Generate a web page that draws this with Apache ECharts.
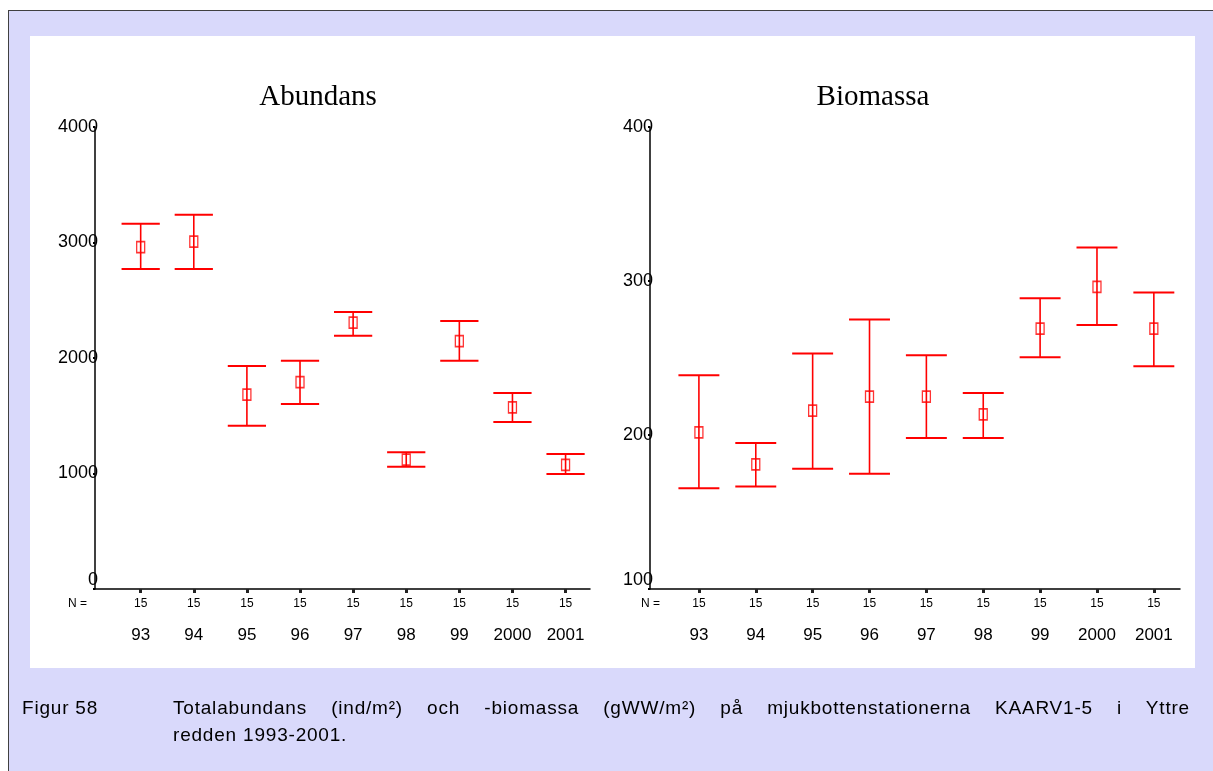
<!DOCTYPE html>
<html>
<head>
<meta charset="utf-8">
<script src="https://cdn.jsdelivr.net/npm/echarts@6/dist/echarts.min.js"></script>
<style>
  html, body { margin: 0; padding: 0; width: 1213px; height: 771px; overflow: hidden; background: #ffffff; }
  #frame { position: absolute; left: 8px; top: 10px; width: 1220px; height: 780px; background: #d9d9fb; border-left: 1.5px solid #404040; border-top: 1.5px solid #404040; }
  #panel { position: absolute; left: 30px; top: 36px; width: 1165px; height: 632px; background: #ffffff; }
  #chart { position: absolute; left: 0; top: 0; width: 1213px; height: 771px; }
  .cap { position: absolute; font-family: "Liberation Sans", Arial, sans-serif; font-size: 19px; letter-spacing: 0.8px; color: #000; line-height: 27px; white-space: nowrap; }
  #capText { left: 173px; top: 694px; width: 1017px; white-space: normal; }
  #capText .l1 { text-align: justify; text-align-last: justify; white-space: nowrap; }
</style>
</head>
<body>
<div id="frame"></div>
<div id="panel"></div>
<div id="chart"></div>
<div class="cap" style="left:22px; top:694px;">Figur 58</div>
<div class="cap" id="capText">
  <div class="l1">Totalabundans (ind/m²) och -biomassa (gWW/m²) på mjukbottenstationerna KAARV1-5 i Yttre</div>
  <div>redden 1993-2001.</div>
</div>
<script>
const years = ['93', '94', '95', '96', '97', '98', '99', '2000', '2001'];
const nCounts = [15, 15, 15, 15, 15, 15, 15, 15, 15];
const abundMean = [2961, 3007, 1682, 1792, 2306, 1120, 2147, 1573, 1074];
const abundLow  = [2771, 2771, 1414, 1602, 2193, 1059, 1977, 1446, 996];
const abundHigh = [3163, 3241, 1931, 1977, 2398, 1184, 2320, 1697, 1169];
const bioMean = [201.7, 181.0, 215.8, 224.9, 224.9, 213.4, 269.1, 296.2, 269.1];
const bioLow  = [165.5, 166.6, 178.1, 174.9, 198.0, 198.0, 250.5, 271.5, 244.6];
const bioHigh = [238.8, 194.8, 252.9, 275.0, 251.8, 227.3, 288.8, 321.8, 292.5];
const abundTicks = [0, 1000, 2000, 3000, 4000];
const bioTicks = [100, 200, 300, 400];

const FONT = '"Liberation Sans", Arial, sans-serif';
const RED = '#ff0000';
const idx = years.map((_, i) => i);

function errRender(params, api) {
  const i = api.value(0);
  const lo = api.coord([i, api.value(1)]);
  const hi = api.coord([i, api.value(2)]);
  const half = api.size([1, 0])[0] * 0.36;
  return {
    type: 'group',
    children: [
      { type: 'line', shape: { x1: lo[0], y1: lo[1], x2: hi[0], y2: hi[1] }, style: { stroke: RED, lineWidth: 1.6 } },
      { type: 'line', shape: { x1: hi[0] - half, y1: hi[1], x2: hi[0] + half, y2: hi[1] }, style: { stroke: RED, lineWidth: 2 } },
      { type: 'line', shape: { x1: lo[0] - half, y1: lo[1], x2: lo[0] + half, y2: lo[1] }, style: { stroke: RED, lineWidth: 2 } }
    ]
  };
}

function xAxisFor(gi) {
  return {
    type: 'value', gridIndex: gi, min: -0.86, max: 8.46,
    splitLine: { show: false },
    axisLine: { show: true, onZero: false, lineStyle: { color: '#000', width: 1.5 } },
    axisTick: { show: true, customValues: idx, length: 4, lineStyle: { color: '#222', width: 3 } },
    axisLabel: {
      show: true, customValues: idx, margin: 6,
      formatter: v => '{n|' + nCounts[Math.round(v)] + '}\n{y|' + years[Math.round(v)] + '}',
      rich: {
        n: { fontFamily: FONT, fontSize: 12, color: '#000', lineHeight: 18 },
        y: { fontFamily: FONT, fontSize: 17, color: '#000', lineHeight: 44 }
      }
    }
  };
}

function yAxisFor(gi, ticks) {
  const lo = ticks[0];
  return {
    type: 'value', gridIndex: gi, min: ticks[0], max: ticks[ticks.length - 1],
    interval: ticks[1] - ticks[0],
    splitLine: { show: false },
    axisLine: { show: true, onZero: false, lineStyle: { color: '#000', width: 1.5 } },
    axisTick: { show: true, length: 2, lineStyle: { color: '#000', width: 2 } },
    axisLabel: {
      margin: -3, color: '#000', fontFamily: FONT, fontSize: 18,
      formatter: v => v === lo ? '{b|' + v + '}' : String(v),
      rich: { b: { fontFamily: FONT, fontSize: 18, color: '#000', padding: [0, 0, 18, 0] } }
    }
  };
}

const chart = echarts.init(document.getElementById('chart'), null, { renderer: 'canvas' });
chart.setOption({
  backgroundColor: 'transparent',
  animation: false,
  title: [
    { text: 'Abundans', left: 313, top: 78, textAlign: 'center',
      textStyle: { fontFamily: '"Liberation Serif", "Times New Roman", serif', fontSize: 29, fontWeight: 'normal', color: '#000' } },
    { text: 'Biomassa', left: 868, top: 78, textAlign: 'center',
      textStyle: { fontFamily: '"Liberation Serif", "Times New Roman", serif', fontSize: 29, fontWeight: 'normal', color: '#000' } }
  ],
  grid: [
    { left: 95, top: 127, width: 495, height: 462 },
    { left: 650, top: 127, width: 530, height: 462 }
  ],
  xAxis: [xAxisFor(0), xAxisFor(1)],
  yAxis: [yAxisFor(0, abundTicks), yAxisFor(1, bioTicks)],
  graphic: [
    { type: 'text', left: 68, top: 598, style: { text: 'N =', fontFamily: FONT, fontSize: 12, fill: '#000' } },
    { type: 'text', left: 641, top: 598, style: { text: 'N =', fontFamily: FONT, fontSize: 12, fill: '#000' } }
  ],
  series: [
    { type: 'custom', xAxisIndex: 0, yAxisIndex: 0, renderItem: errRender, z: 2,
      data: idx.map(i => [i, abundLow[i], abundHigh[i]]) },
    { type: 'scatter', xAxisIndex: 0, yAxisIndex: 0, symbol: 'rect', symbolSize: [8, 11], z: 3,
      itemStyle: { color: 'rgba(255,255,255,0)', borderColor: RED, borderWidth: 1.5 },
      data: idx.map(i => [i, abundMean[i]]) },
    { type: 'custom', xAxisIndex: 1, yAxisIndex: 1, renderItem: errRender, z: 2,
      data: idx.map(i => [i, bioLow[i], bioHigh[i]]) },
    { type: 'scatter', xAxisIndex: 1, yAxisIndex: 1, symbol: 'rect', symbolSize: [8, 11], z: 3,
      itemStyle: { color: 'rgba(255,255,255,0)', borderColor: RED, borderWidth: 1.5 },
      data: idx.map(i => [i, bioMean[i]]) }
  ]
});
</script>
</body>
</html>
